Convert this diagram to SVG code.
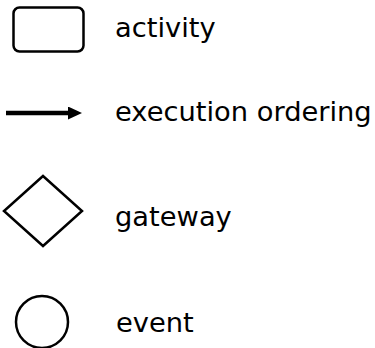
<svg xmlns="http://www.w3.org/2000/svg" width="375" height="348" viewBox="0 0 375 348">
  <style>
    .shape { fill: #fff; stroke: #000; stroke-width: 2.5; }
    .label { font-family: "DejaVu Sans", Verdana, sans-serif; font-size: 27.3px; fill: #000; }
  </style>
  <defs>
    <marker id="arrowhead" markerWidth="14" markerHeight="13" refX="0" refY="6.5" orient="auto" markerUnits="userSpaceOnUse">
      <path d="M0,0 L14,6.5 L0,13 Z" fill="#000"/>
    </marker>
  </defs>
  <rect width="375" height="348" fill="#fff"/>

  <g id="activity">
    <rect class="shape" x="13.5" y="7.5" width="70" height="44" rx="6" ry="6"/>
    <text class="label" x="115" y="37">activity</text>
  </g>

  <g id="connectors">
    <line x1="6" y1="113" x2="68" y2="113" stroke="#000" stroke-width="4.5" marker-end="url(#arrowhead)"/>
  </g>
  <g id="execution-ordering">
    <text class="label" x="115" y="121">execution ordering</text>
  </g>

  <g id="gateway">
    <polygon class="shape" points="43,176 82,211 43,246 4,211"/>
    <text class="label" x="115" y="226">gateway</text>
  </g>

  <g id="event">
    <circle class="shape" cx="42" cy="322" r="26"/>
    <text class="label" x="116" y="332">event</text>
  </g>
</svg>
